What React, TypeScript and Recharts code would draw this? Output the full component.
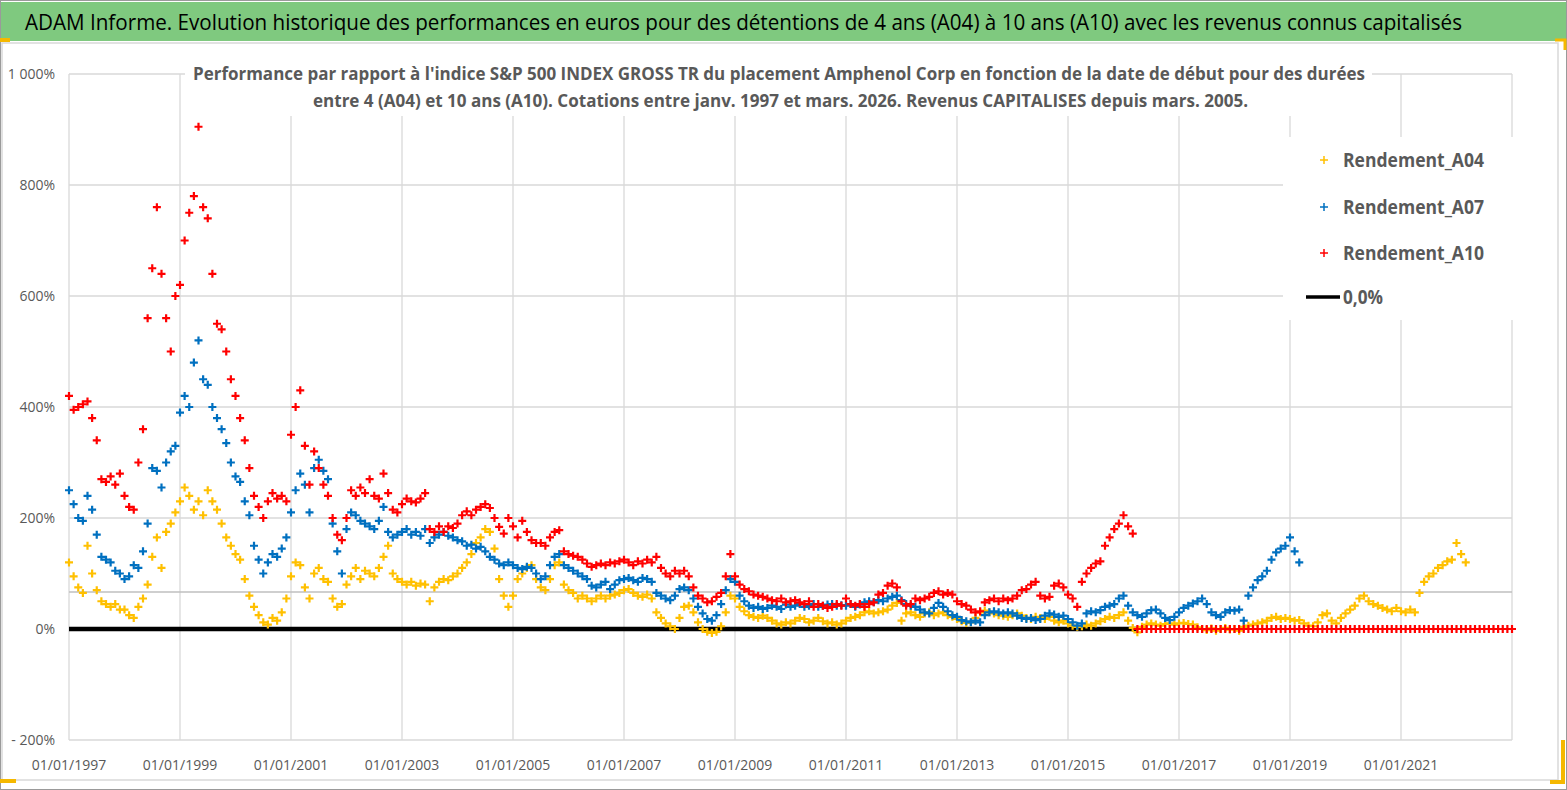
import React from "react";
import { ScatterChart, Scatter, XAxis, YAxis, CartesianGrid, ReferenceLine } from "recharts";

// monthly readings (%), first value = Jan 1997
const a04 = [
  120, 95, 75, 65, 150, 100, 70, 50, 45, 40, 45, 35,
  35, 25, 20, 40, 55, 80, 130, 165, 110, 175, 190, 210,
  230, 255, 240, 215, 230, 205, 250, 230, 215, 190, 165, 150,
  135, 125, 90, 60, 40, 25, 12, 8, 20, 15, 30, 55,
  95, 120, 115, 75, 55, 100, 110, 90, 85, 55, 40, 45,
  80, 95, 110, 90, 105, 100, 95, 110, 130, 150, 100, 90,
  85, 80, 85, 78, 82, 80, 50, 75, 85, 90, 88, 95,
  100, 110, 120, 135, 155, 165, 180, 175, 145, 90, 60, 40,
  60, 90, 100, 110, 115, 90, 75, 70, 90, 115, 120, 80,
  70, 65, 55, 60, 55, 50, 55, 60, 55, 60, 62, 65,
  70, 72, 65, 60, 58, 62, 55, 30, 20, 10, 5, 0,
  20, 40, 42, 30, 12, 0, -5, -7, -5, 5, 30, 60,
  55, 40, 32, 25, 22, 20, 24, 20, 15, 10, 8, 12,
  10, 15, 20, 18, 12, 15, 20, 14, 10, 12, 8, 10,
  15, 20, 22, 25, 30, 32, 28, 30, 32, 35, 42, 47,
  15, 28, 30, 25, 22, 28, 30, 25, 28, 30, 25, 22,
  18, 14, 11, 12, 20, 30, 33, 30, 28, 25, 24, 22,
  25, 28, 24, 20, 18, 22, 20, 18, 22, 15, 12, 15,
  10, 6, 4, 5, 8, 6, 10, 14, 18, 22, 20, 25,
  30, 15, 2, -6, 4, 8, 10, 8, 6, 9, 10, 8,
  10, 11, 9, 8, 3, 0, -2, 1, -3, 0, 2, -1,
  0, -3, 4, 6, 8, 10, 12, 15, 20, 22, 18, 20,
  18, 15, 16, 10, 6, 5, 12, 25, 28, 15, 10, 20,
  28, 35, 42, 55, 60, 50, 45, 42, 38, 35, 32, 38,
  32, 30, 35, 30, 65, 85, 95, 100, 110, 115, 122, 125,
  155, 135, 120,
];

const a07 = [
  250, 225, 200, 195, 240, 215, 170, 130, 125, 120, 105, 100,
  90, 95, 115, 110, 140, 190, 290, 285, 255, 300, 320, 330,
  390, 420, 400, 480, 520, 450, 440, 400, 380, 360, 335, 300,
  275, 265, 230, 205, 150, 125, 100, 120, 135, 130, 145, 165,
  210, 250, 280, 260, 210, 290, 305, 285, 270, 190, 140, 100,
  180, 210, 205, 195, 190, 185, 180, 195, 220, 175, 165, 170,
  175, 180, 170, 175, 168, 180, 155, 165, 170, 175, 168, 165,
  160, 158, 150, 152, 145, 148, 140, 130, 125, 118, 115, 120,
  115, 110, 108, 112, 110, 100, 90, 95, 115, 130, 135, 115,
  110, 105, 100, 95, 90, 78, 75, 80, 85, 72, 80, 88,
  90, 92, 88, 85, 92, 90, 85, 65, 60, 55, 52, 60,
  72, 75, 70, 55, 40, 28, 18, 15, 25, 45, 70, 90,
  85, 60, 50, 42, 38, 40, 36, 38, 42, 40, 36, 44,
  40, 42, 45, 40, 42, 45, 40, 42, 44, 45, 42, 43,
  42, 45, 40, 44, 48, 50, 48, 52, 50, 55, 58, 60,
  52, 45, 42, 40, 35, 30, 28, 38, 47, 40, 32, 25,
  22, 16, 14, 12, 15, 12, 25, 30, 32, 30, 28, 30,
  28, 24, 20, 18, 20, 16, 18, 24, 28, 26, 22, 24,
  18, 12, 6, 10, 28, 32, 30, 34, 40, 42, 45, 55,
  60, 42, 30, 25, 22, 28, 34, 35, 28, 20, 16, 22,
  30, 38, 42, 46, 50, 55, 45, 30, 25, 22, 30, 34,
  33, 35, 15, 60, 75, 88, 95, 105, 125, 138, 145, 150,
  165, 140, 120,
];

const a10 = [
  420, 395, 400, 405, 410, 380, 340, 270, 265, 275, 260, 280,
  240, 220, 215, 300, 360, 560, 650, 760, 640, 560, 500, 600,
  620, 700, 750, 780, 905, 760, 740, 640, 550, 540, 500, 450,
  420, 380, 340, 290, 240, 220, 200, 230, 245, 235, 240, 230,
  350, 400, 430, 330, 260, 320, 290, 260, 240, 200, 170, 160,
  200, 250, 240, 255, 245, 270, 240, 235, 280, 245, 215, 210,
  225, 235, 230, 228, 235, 245, 180, 175, 185, 175, 185, 182,
  190, 205, 212, 205, 215, 220, 225, 218, 200, 184, 172, 200,
  185, 165, 195, 175, 160, 155, 155, 150, 165, 175, 178, 140,
  135, 132, 130, 125, 118, 112, 115, 118, 115, 120, 118, 122,
  125, 120, 115, 122, 118, 125, 120, 130, 110, 100, 95, 105,
  100, 105, 95, 75, 60, 55, 48, 50, 58, 65, 95, 135,
  95, 80, 72, 68, 62, 60, 58, 55, 52, 50, 55, 48,
  50, 52, 48, 45, 50, 40, 45, 42, 38, 40, 45, 42,
  55, 45, 42, 45, 40, 45, 48, 62, 65, 78, 82, 75,
  50, 42, 45, 55, 52, 55, 58, 65, 68, 62, 65, 62,
  50, 45, 42, 35, 30, 32, 48, 52, 55, 50, 55, 52,
  55, 60, 70, 72, 80, 85, 60, 55, 58, 78, 82, 75,
  62, 55, 40, 85, 100, 110, 118, 122, 150, 165, 180, 190,
  205, 185, 172, 0, 0, 0, 0, 0, 0, 0, 0, 0,
  0, 0, 0, 0, 0, 0, 0, 0, 0, 0, 0, 0,
  0, 0, 0, 0, 0, 0, 0, 0, 0, 0, 0, 0,
  0, 0, 0, 0, 0, 0, 0, 0, 0, 0, 0, 0,
  0, 0, 0, 0, 0, 0, 0, 0, 0, 0, 0, 0,
  0, 0, 0, 0, 0, 0, 0, 0, 0, 0, 0, 0,
  0, 0, 0, 0, 0, 0, 0, 0, 0, 0, 0, 0,
  0,
];

const xTicks = [1997, 1999, 2001, 2003, 2005, 2007, 2009, 2011, 2013, 2015, 2017, 2019, 2021];
const yTicks = [-200, 0, 200, 400, 600, 800, 1000];

const START = 1997;
const toPoints = (vals: number[]) => vals.map((y, i) => ({ x: START + i / 12, y }));

const YELLOW = "#FFC000";
const BLUE = "#0070C0";
const RED = "#FF0000";
const GREY = "#595959";

const plus = (color: string, r = 4) => (p: any) => {
  if (p.cx == null || p.cy == null) return <g />;
  return (
    <path
      d={`M${p.cx - r},${p.cy}H${p.cx + r}M${p.cx},${p.cy - r}V${p.cy + r}`}
      stroke={color}
      strokeWidth={2.2}
      fill="none"
    />
  );
};

const fmtY = (v: number) => {
  if (v < 0) return `- ${Math.abs(v)}%`;
  if (v >= 1000) return "1 000%";
  return `${v}%`;
};

const tickStyle = { fill: GREY, fontSize: 14, fontFamily: "Open Sans" };

export default function App() {
  return (
    <div style={{ position: "absolute", left: 0, top: 0, width: 1567, height: 790, background: "#fff" }}>
      <ScatterChart width={1567} height={790} margin={{ top: 74, right: 55, bottom: 20, left: 9 }}>
        <CartesianGrid stroke="#d9d9d9" strokeWidth={1.3} />
        <XAxis
          dataKey="x"
          type="number"
          domain={[1997, 2023]}
          ticks={xTicks}
          tickFormatter={(v) => `01/01/${v}`}
          axisLine={false}
          tickLine={false}
          tickSize={0}
          tickMargin={20}
          height={30}
          tick={tickStyle}
          interval={0}
        />
        <YAxis
          dataKey="y"
          type="number"
          domain={[-200, 1000]}
          ticks={yTicks}
          tickFormatter={fmtY}
          axisLine={false}
          tickLine={false}
          tickSize={0}
          tickMargin={14}
          width={60}
          tick={tickStyle}
          interval={0}
        />
        <ReferenceLine y={66.7} stroke="#bfbfbf" strokeWidth={1.5} />
        <ReferenceLine
          segment={[{ x: 1997, y: 0 }, { x: 2016.25, y: 0 }]}
          stroke="#000"
          strokeWidth={4.5}
        />
        <Scatter name="Rendement_A04" data={toPoints(a04)} shape={plus(YELLOW)} isAnimationActive={false} />
        <Scatter name="Rendement_A07" data={toPoints(a07)} shape={plus(BLUE)} isAnimationActive={false} />
        <Scatter name="Rendement_A10" data={toPoints(a10)} shape={plus(RED)} isAnimationActive={false} />
      </ScatterChart>

      <svg
        width={1567}
        height={790}
        style={{ position: "absolute", left: 0, top: 0, pointerEvents: "none" }}
      >
        {/* frame */}
        <rect x={0.5} y={0.5} width={1566} height={789} fill="none" stroke="#9a9a9a" />
        <rect x={2} y={43} width={1556} height={737} fill="none" stroke="#d9d9d9" strokeWidth={1.5} />

        {/* title bar */}
        <rect x={1} y={2} width={1565} height={39} fill="#7FC97F" />
        <text x={25} y={30} fontFamily="Open Sans" fontWeight={500} fontSize={22} fill="#000" textLength={1437} lengthAdjust="spacingAndGlyphs">
          ADAM Informe. Evolution historique des performances en euros pour des détentions de 4 ans (A04) à 10 ans (A10) avec les revenus connus capitalisés
        </text>

        {/* subtitle */}
        <rect x={185} y={60} width={1187} height={56} fill="#fff" />
        <text x={193} y={80} fontFamily="Open Sans" fontWeight="bold" fontSize={17} fill={GREY} textLength={1172} lengthAdjust="spacingAndGlyphs">
          Performance par rapport à l'indice S&amp;P 500 INDEX GROSS TR  du placement Amphenol Corp en fonction de la date de début pour des durées
        </text>
        <text x={313} y={107} fontFamily="Open Sans" fontWeight="bold" fontSize={17} fill={GREY} textLength={935} lengthAdjust="spacingAndGlyphs">
          entre 4 (A04) et 10 ans (A10). Cotations entre janv. 1997 et mars. 2026. Revenus CAPITALISES depuis mars. 2005.
        </text>

        {/* legend */}
        <rect x={1283} y={137} width={232} height={183} fill="#fff" />
        {[
          { label: "Rendement_A04", color: YELLOW, y: 160 },
          { label: "Rendement_A07", color: BLUE, y: 207 },
          { label: "Rendement_A10", color: RED, y: 253 },
        ].map((e) => (
          <g key={e.label}>
            <path d={`M${1320},${e.y}H${1328}M${1324},${e.y - 4}V${e.y + 4}`} stroke={e.color} strokeWidth={1.5} />
            <text x={1343} y={e.y + 7} fontFamily="Open Sans" fontWeight="bold" fontSize={19} fill={GREY} textLength={141} lengthAdjust="spacingAndGlyphs">
              {e.label}
            </text>
          </g>
        ))}
        <line x1={1306} y1={297} x2={1340} y2={297} stroke="#000" strokeWidth={3.5} />
        <text x={1343} y={304} fontFamily="Open Sans" fontWeight="bold" fontSize={19} fill={GREY} textLength={40} lengthAdjust="spacingAndGlyphs">
          0,0%
        </text>

        {/* selection handles */}
        <rect x={0} y={38} width={10} height={4} fill="#F5B800" />
        <path d="M1555,40H1565V50" stroke="#F5B800" strokeWidth={3} fill="none" />
        <path d="M1563,740V782H1550" stroke="#F5B800" strokeWidth={4} fill="none" />
        <rect x={0} y={779} width={16} height={4} fill="#F5B800" />
      </svg>
    </div>
  );
}
